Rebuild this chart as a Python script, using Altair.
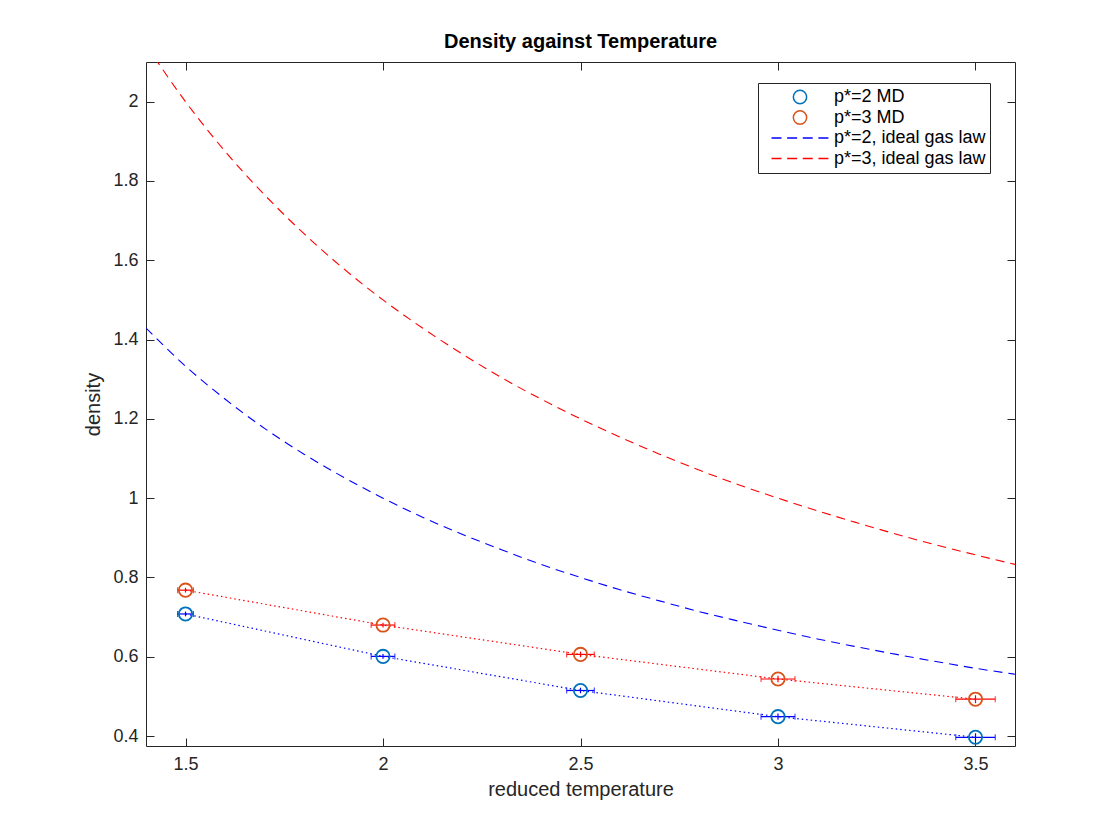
import altair as alt
import pandas as pd

# MD runs: reduced temperature, density and error bar half widths
T_md = [1.5, 2.0, 2.5, 3.0, 3.5]
rho_md_p2 = [0.708, 0.601, 0.515, 0.449, 0.397]
rho_md_p3 = [0.768, 0.680, 0.606, 0.544, 0.493]
T_err = [0.020, 0.030, 0.035, 0.043, 0.050]
rho_err_p2 = [0.006, 0.006, 0.007, 0.008, 0.010]
rho_err_p3 = [0.006, 0.006, 0.007, 0.008, 0.010]

# ideal gas law curves
T_ideal = [1.4, 1.5, 1.6, 1.7, 1.8, 1.9, 2.0, 2.1, 2.2, 2.3, 2.4, 2.5,
           2.6, 2.7, 2.8, 2.9, 3.0, 3.1, 3.2, 3.3, 3.4, 3.5, 3.6]
rho_ideal_p2 = [1.429, 1.333, 1.250, 1.176, 1.111, 1.053, 1.000, 0.952,
                0.909, 0.870, 0.833, 0.800, 0.769, 0.741, 0.714, 0.690,
                0.667, 0.645, 0.625, 0.606, 0.588, 0.571, 0.556]
rho_ideal_p3 = [2.143, 2.000, 1.875, 1.765, 1.667, 1.579, 1.500, 1.429,
                1.364, 1.304, 1.250, 1.200, 1.154, 1.111, 1.071, 1.034,
                1.000, 0.968, 0.938, 0.909, 0.882, 0.857, 0.833]

series = ['p*=2 MD', 'p*=3 MD', 'p*=2, ideal gas law', 'p*=3, ideal gas law']
series_colors = ['#0072BD', '#D95319', '#0000FF', '#FF0000']

x_ticks = [1.5, 2, 2.5, 3, 3.5]
y_ticks = [0.4, 0.6, 0.8, 1, 1.2, 1.4, 1.6, 1.8, 2]

md = pd.DataFrame({
    'T': T_md * 2,
    'rho': rho_md_p2 + rho_md_p3,
    'T_err': T_err * 2,
    'rho_err': rho_err_p2 + rho_err_p3,
    'series': [series[0]] * 5 + [series[1]] * 5,
})
md['T_lo'] = md['T'] - md['T_err']
md['T_hi'] = md['T'] + md['T_err']
md['rho_lo'] = md['rho'] - md['rho_err']
md['rho_hi'] = md['rho'] + md['rho_err']

ideal = pd.DataFrame({
    'T': T_ideal * 2,
    'rho': rho_ideal_p2 + rho_ideal_p3,
    'series': [series[2]] * len(T_ideal) + [series[3]] * len(T_ideal),
})

xs = alt.Scale(domain=[1.4, 3.6], nice=False, zero=False)
ys = alt.Scale(domain=[0.375, 2.1], nice=False, zero=False)
color_scale = alt.Scale(domain=series, range=series_colors)

# legend glyphs: small circle and a four-dash line
circle_path = 'M-0.2,0A0.2,0.2,0,1,1,0.2,0A0.2,0.2,0,1,1,-0.2,0Z'
dash_path = 'M-0.857,0H-0.557M-0.387,0H-0.087M0.083,0H0.383M0.553,0H0.853'
shape_scale = alt.Scale(domain=series, range=[circle_path, circle_path, dash_path, dash_path])
SYM = 4422

axis_font = 'Liberation Sans'
bottom_axis = alt.Axis(orient='bottom', values=x_ticks, format='~g', offset=-8, tickSize=8,
                       domain=False, grid=False, labelFontSize=18, labelPadding=9,
                       title='reduced temperature', titleFontSize=20, titlePadding=6)
left_axis = alt.Axis(orient='left', values=y_ticks, format='~g', offset=-8, tickSize=8,
                     domain=False, grid=False, labelFontSize=18, labelPadding=8,
                     title='density', titleFontSize=20, titlePadding=9)
top_axis = alt.Axis(orient='top', values=x_ticks, offset=-8, tickSize=8, domain=False,
                    grid=False, labels=False, title=None)
right_axis = alt.Axis(orient='right', values=y_ticks, offset=-8, tickSize=8, domain=False,
                      grid=False, labels=False, title=None)

legend = alt.Legend(title=None, orient='none', legendX=612, legendY=21, direction='vertical',
                    fillColor='white', strokeColor='#262626', padding=4,
                    labelFontSize=18, labelFont=axis_font, labelColor='black', labelOffset=0,
                    symbolSize=SYM, symbolStrokeWidth=1.5, symbolOffset=4,
                    clipHeight=20, rowPadding=0.5, labelLimit=400)

layers = []
ideal_colors = {series[2]: '#0000FF', series[3]: '#FF0000'}
for i, (name, col) in enumerate(ideal_colors.items()):
    xa, ya = (bottom_axis, left_axis) if i == 0 else (None, None)
    layers.append(
        alt.Chart(ideal).transform_filter(alt.datum.series == name).mark_line(
            strokeDash=[9, 6], strokeWidth=1.1, clip=True, interpolate='monotone', color=col
        ).encode(
            x=alt.X('T:Q', scale=xs, axis=xa),
            y=alt.Y('rho:Q', scale=ys, axis=ya),
        )
    )

fit_colors = {series[0]: '#0000FF', series[1]: '#FF0000'}
for i, (name, col) in enumerate(fit_colors.items()):
    sub = alt.Chart(md).transform_filter(alt.datum.series == name)
    xa, ya = (top_axis, right_axis) if i == 0 else (None, None)
    dotted = sub.mark_line(strokeDash=[1.5, 3], strokeWidth=1.2, color=col).encode(
        x=alt.X('T:Q', scale=xs, axis=xa),
        y=alt.Y('rho:Q', scale=ys, axis=ya),
    )
    hbar = sub.mark_rule(color=col, strokeWidth=1.2).encode(
        x=alt.X('T_lo:Q', scale=xs, axis=None), x2='T_hi:Q',
        y=alt.Y('rho:Q', scale=ys, axis=None),
    )
    cap_lo = sub.mark_tick(orient='vertical', size=6, thickness=1.2, color=col).encode(
        x=alt.X('T_lo:Q', scale=xs, axis=None),
        y=alt.Y('rho:Q', scale=ys, axis=None),
    )
    cap_hi = sub.mark_tick(orient='vertical', size=6, thickness=1.2, color=col).encode(
        x=alt.X('T_hi:Q', scale=xs, axis=None),
        y=alt.Y('rho:Q', scale=ys, axis=None),
    )
    vbar = sub.mark_rule(color=col, strokeWidth=1.2).encode(
        x=alt.X('T:Q', scale=xs, axis=None),
        y=alt.Y('rho_lo:Q', scale=ys, axis=None), y2='rho_hi:Q',
    )
    layers += [dotted, hbar, cap_lo, cap_hi, vbar]

points = alt.Chart(md).mark_point(filled=False, strokeWidth=1.8, size=SYM, opacity=1).encode(
    x=alt.X('T:Q', scale=xs, axis=None),
    y=alt.Y('rho:Q', scale=ys, axis=None),
    color=alt.Color('series:N', scale=color_scale, legend=legend),
    shape=alt.Shape('series:N', scale=shape_scale, legend=legend),
)
layers.append(points)

chart = alt.layer(*layers).resolve_axis(
    x='independent', y='independent'
).properties(
    width=869,
    height=684,
    padding={'left': 138, 'top': 54, 'right': 90, 'bottom': 80},
    autosize=alt.AutoSizeParams(type='none'),
    title=alt.TitleParams(text='Density against Temperature', fontSize=20, fontWeight='bold',
                          font=axis_font, color='black', offset=10, anchor='middle'),
).configure(
    background='white'
).configure_view(
    stroke='#262626', strokeWidth=1
).configure_axis(
    labelFont=axis_font, titleFont=axis_font, labelColor='#262626', titleColor='#262626',
    tickColor='#262626', titleFontWeight='normal'
)

chart.save("out.html", embed_options={"renderer": "svg", "actions": False})
